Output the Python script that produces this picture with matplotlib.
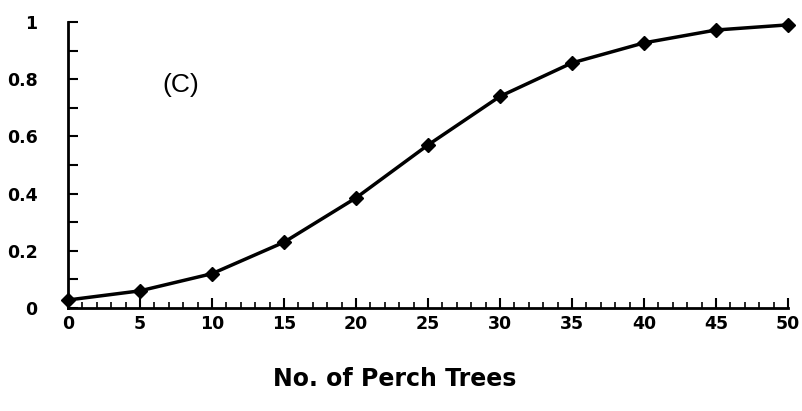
import matplotlib
matplotlib.use("Agg")
import matplotlib.pyplot as plt
from matplotlib.ticker import MultipleLocator

x_trees = [0, 5, 10, 15, 20, 25, 30, 35, 40, 45, 50]
prob = [0.028, 0.06, 0.12, 0.23, 0.385, 0.57, 0.74, 0.857, 0.927, 0.972, 0.99]
x_ticks = [0, 5, 10, 15, 20, 25, 30, 35, 40, 45, 50]
y_ticks = [0, 0.2, 0.4, 0.6, 0.8, 1.0]
y_labels = ["0", "0.2", "0.4", "0.6", "0.8", "1"]

plt.rcParams['font.family'] = ['DejaVu Sans']

fig = plt.figure(figsize=(8.03, 4.11), dpi=100)
ax = fig.add_axes([68/803, (411-308)/411, (788-68)/803, (308-22)/411])

ax.plot(x_trees, prob, color='black', lw=2.5, marker='D', ms=7,
        clip_on=False, zorder=5)

ax.set_xlim(0, 50)
ax.set_ylim(0, 1)
for s in ['top', 'right']:
    ax.spines[s].set_visible(False)
for s in ['left', 'bottom']:
    ax.spines[s].set_linewidth(2)

ax.set_xticks(x_ticks)
ax.set_xticklabels([str(v) for v in x_ticks], fontsize=12.5, fontweight='bold')
ax.xaxis.set_minor_locator(MultipleLocator(1))
ax.set_yticks(y_ticks)
ax.set_yticklabels(y_labels, fontsize=12.5, fontweight='bold')
ax.yaxis.set_minor_locator(MultipleLocator(0.1))

ax.tick_params(axis='x', which='major', direction='in', length=7, width=1.5, pad=5)
ax.tick_params(axis='x', which='minor', direction='in', length=4.5, width=1.2)
ax.tick_params(axis='y', which='major', direction='in', length=7, width=1.5, pad=22)
ax.tick_params(axis='y', which='minor', direction='in', length=7, width=1.5)

ax.set_xlabel("No. of Perch Trees", fontsize=17, fontweight='bold')
ax.xaxis.set_label_coords((395-68)/720, (308-367)/286)
ax.text(7.8, 0.78, "(C)", fontsize=19, ha='center', va='center',
        family='Liberation Sans', fontweight='medium')

fig.savefig("out.png", dpi=100)
